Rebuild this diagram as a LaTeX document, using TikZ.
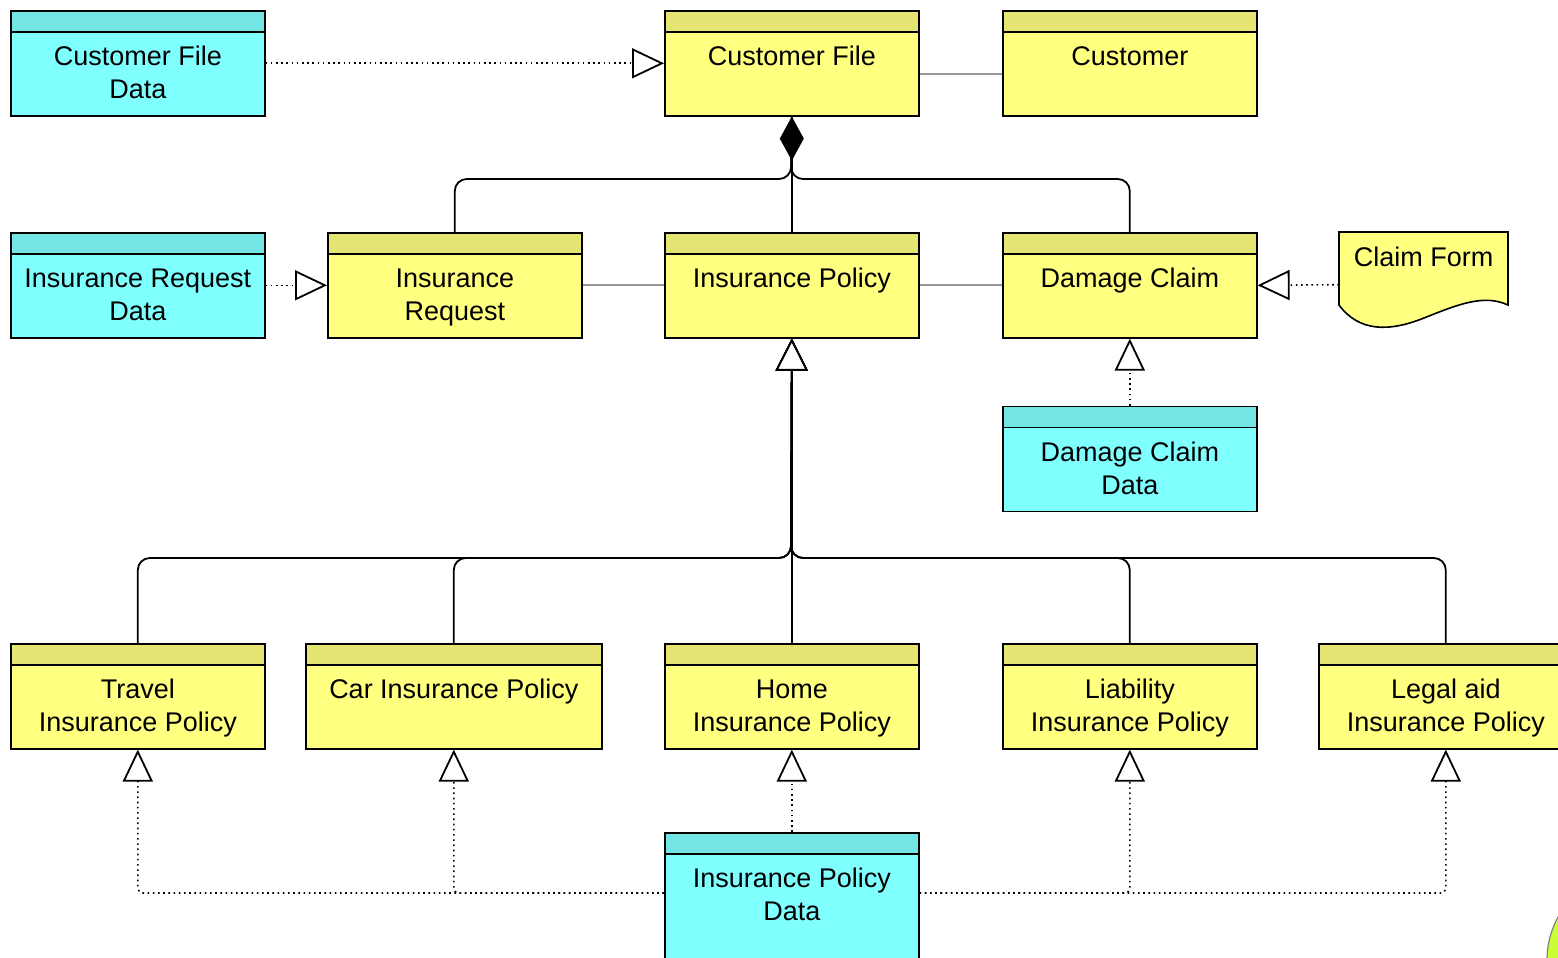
\documentclass[tikz,border=0pt]{standalone}
\usepackage{fontspec}
\setmainfont{Liberation Sans}
\usetikzlibrary{arrows.meta,positioning,backgrounds}
\definecolor{clsyellow}{HTML}{FFFF80}
\definecolor{hdryellow}{HTML}{E5E573}
\definecolor{clscyan}{HTML}{80FFFF}
\definecolor{hdrcyan}{HTML}{73E5E5}
\definecolor{linkgray}{HTML}{999999}
\definecolor{blobgreen}{HTML}{CCFF33}

\begin{document}
\begin{tikzpicture}[x=1pt, y=-1pt,
  cls/.style={draw, line width=1.6pt, rectangle, anchor=north west,
    minimum width=254pt, minimum height=105pt, inner xsep=2pt, inner ysep=0pt,
    text height=55pt, text depth=50pt, align=center, font=\fontsize{27}{33}\selectfont,
    path picture={
      \fill[#1] (path picture bounding box.north west) rectangle ([yshift=-21pt]path picture bounding box.north east);
      \draw[line width=1.6pt] ([yshift=-21pt]path picture bounding box.north west) -- ([yshift=-21pt]path picture bounding box.north east);}},
  ycls/.style={cls=hdryellow, fill=clsyellow},
  ccls/.style={cls=hdrcyan, fill=clscyan},
  tall/.style={text height=88pt, text depth=17pt},
  doc/.style={rectangle, anchor=north west, minimum width=169pt, minimum height=105pt,
    inner ysep=0pt, text height=34pt, text depth=71pt, font=\fontsize{27}{33}\selectfont},
  assoc/.style={draw=linkgray, line width=1.8pt},
  comp/.style={line width=1.8pt, {Diamond[length=44pt, width=24pt]}-},
  tree/.style={line width=1.8pt, rounded corners=12pt},
  gen/.style={line width=1.8pt, rounded corners=12pt, -{Triangle[fill=white, length=32pt, width=32pt, line width=1.8pt]}},
  real/.style={line width=1.6pt, dash pattern=on 1.6pt off 3.6pt, rounded corners=5pt,
    -{Triangle[fill=white, length=32pt, width=30pt, line width=1.8pt]}}
]
  \useasboundingbox (0,0) rectangle (1558,958);
  \clip (0,0) rectangle (1558,958);

  % top row
  \node[ccls, tall] (cfd) at (10,10) {Customer File\\Data};
  \node[ycls] (cfl) at (664,10)  {Customer File};
  \node[ycls] (cst) at (1002,10) {Customer};

  % middle row
  \node[ccls, tall] (ird) at (10,232)  {Insurance Request\\Data};
  \node[ycls, tall] (irq) at (327,232) {Insurance\\Request};
  \node[ycls] (ipl) at (664,232)  {Insurance Policy};
  \node[ycls] (dcl) at (1002,232) {Damage Claim};
  \node[doc]  (clf) at (1339,232) {Claim Form};
  \node[ccls, tall, below=67pt of dcl] (dcd) {Damage Claim\\Data};

  % claim form outline
  \begin{scope}[on background layer, shift={(clf.north west)}]
    \draw[line width=1.6pt, fill=clsyellow] (0,0) -- (169,0) -- (169,73)
      .. controls (145,62) and (120,72) .. (85,86)
      .. controls (50,100) and (20,100) .. (0,73) -- cycle;
  \end{scope}

  % policy kinds
  \node[ycls, tall] (tvl) at (10,643)   {Travel\\Insurance Policy};
  \node[ycls, minimum width=296pt] (car) at (305,643) {Car Insurance Policy};
  \node[ycls, tall] (hom) at (664,643)  {Home\\Insurance Policy};
  \node[ycls, tall] (lia) at (1002,643) {Liability\\Insurance Policy};
  \node[ycls, tall] (lgl) at (1318,643) {Legal aid\\Insurance Policy};
  \node[ccls, minimum height=150pt, text height=88pt, text depth=62pt] (ipd) at (664,832) {Insurance Policy\\Data};

  \coordinate (cj) at (791,179);
  \coordinate (gj) at (791,558);
  \coordinate (ipdl) at ([yshift=-61pt]ipd.north west);
  \coordinate (ipdr) at ([yshift=-61pt]ipd.north east);

  \draw[real] (cfd.east) -- (cfl.west);
  \draw[assoc] ([yshift=-10.5pt]cfl.east) -- ([yshift=-10.5pt]cst.west);

  \draw[comp] (cfl.south) -- (ipl.north);
  \draw[tree] (cfl.south) -- (cj) -| (irq.north);
  \draw[tree] (cfl.south) -- (cj) -| (dcl.north);

  \draw[real] (ird.east) -- (irq.west);
  \draw[assoc] (irq.east) -- (ipl.west);
  \draw[assoc] (ipl.east) -- (dcl.west);
  \draw[real] (clf.west) -- (dcl.east);
  \draw[real] (dcd.north) -- (dcl.south);

  \draw[gen] (tvl.north) |- (gj) -- (ipl.south);
  \draw[gen] (car.north) |- (gj) -- (ipl.south);
  \draw[gen] (hom.north) -- (ipl.south);
  \draw[gen] (lia.north) |- (gj) -- (ipl.south);
  \draw[gen] (lgl.north) |- (gj) -- (ipl.south);

  \draw[real] (ipdl) -| (tvl.south);
  \draw[real] (ipdl) -| (car.south);
  \draw[real] (ipd.north) -- (hom.south);
  \draw[real] (ipdr) -| (lia.south);
  \draw[real] (ipdr) -| (lgl.south);

  \fill[blobgreen, draw=gray, line width=1.2pt] (1636,960) circle (89pt);
\end{tikzpicture}
\end{document}
